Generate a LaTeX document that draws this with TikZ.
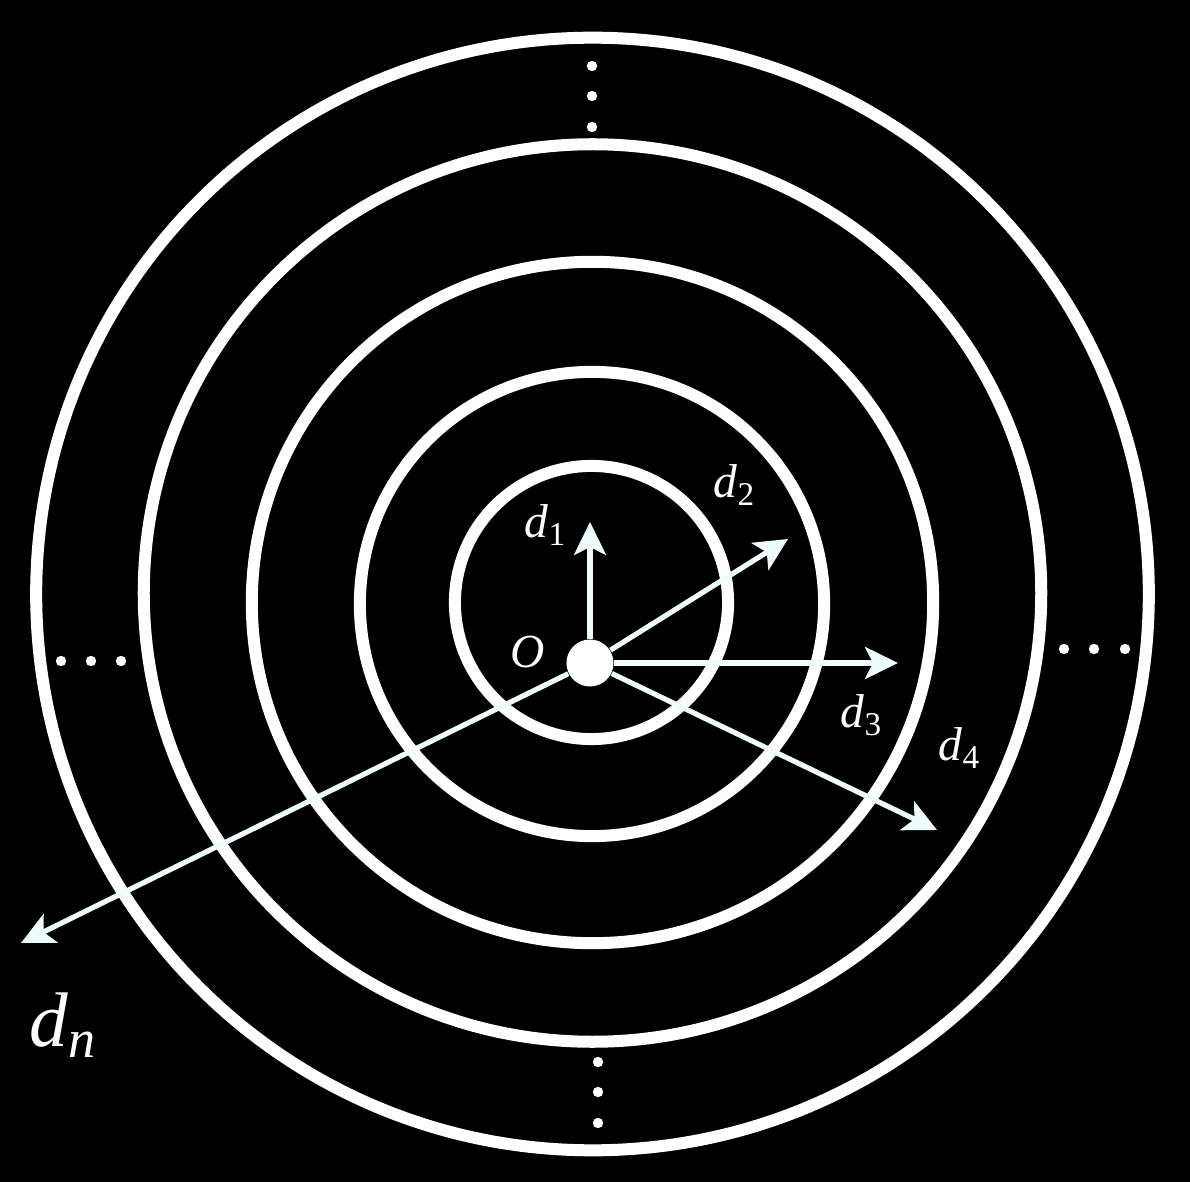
\documentclass[tikz,border=0pt]{standalone}
\usepackage{fontspec}
\setmainfont{Liberation Serif}
\usepackage{tikz}
\usetikzlibrary{arrows.meta}
\definecolor{raycol}{RGB}{238,252,252}
\tikzset{
    ring/.style={draw=white,line width=0.12cm},
    ray/.style={draw=raycol,line width=0.052cm,-{Stealth[length=0.33cm,width=0.32cm,inset=0.08cm]}},
    lab/.style={text=white,inner sep=0pt,font=\fontsize{13.5pt}{15pt}\selectfont},
}
\begin{document}
\begin{tikzpicture}[x=0.01cm,y=-0.01cm]
    \fill[black] (0,0) rectangle (1190,1182);
    \useasboundingbox (0,0) rectangle (1190,1182);

    % rings
    \draw[ring] (591.5,602.5) circle (1.365cm);
    \draw[ring] (592,604) circle (2.32cm);
    \draw[ring] (592.5,602.5) circle (3.405cm);
    \draw[ring] (592.5,593) circle (4.485cm);
    \draw[ring] (592.5,594) circle (5.56cm);

    % dots
    \foreach \y in {66,96,127} \fill[white] (592,\y) circle (0.052cm);
    \foreach \y in {1062,1092,1123} \fill[white] (598,\y) circle (0.052cm);
    \foreach \x in {61,91,121} \fill[white] (\x,661) circle (0.052cm);
    \foreach \x in {1064,1094,1125} \fill[white] (\x,649) circle (0.052cm);

    % origin and rays
    \node[circle,fill=white,inner sep=0pt,minimum size=0.47cm] (o) at (590,663) {};
    \coordinate (t1) at (590,522);
    \coordinate (t2) at (788,539);
    \coordinate (t3) at (898,663);
    \coordinate (t4) at (937,830);
    \coordinate (tn) at (21,943);
    \foreach \t in {t1,t2,t3,t4,tn} \draw[ray] (o) -- (\t);

    % labels
    \node[lab] (lo) at (528,652) {\textit{O}};
    \node[lab] (l1) at (546,525) {\textit{d}\textsubscript{1}};
    \node[lab] (l2) at (735,485) {\textit{d}\textsubscript{2}};
    \node[lab] (l3) at (862,715) {\textit{d}\textsubscript{3}};
    \node[lab] (l4) at (960,748) {\textit{d}\textsubscript{4}};
    \node[lab,font=\fontsize{22pt}{25pt}\selectfont] (ln) at (63,1025) {\textit{d}\textsubscript{\textit{n}}};

\end{tikzpicture}
\end{document}
